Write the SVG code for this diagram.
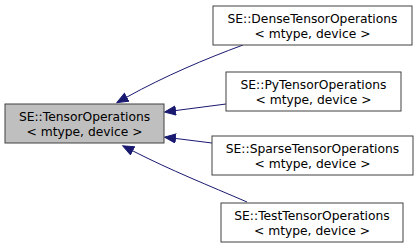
<svg xmlns="http://www.w3.org/2000/svg" width="420" height="248" viewBox="0 0 420 248">
  <style>
    .node rect { stroke: #404040; stroke-width: 1; }
    .base rect { fill: #bfbfbf; }
    .derived rect { fill: #ffffff; }
    .node text { font-family: "DejaVu Sans", sans-serif; font-size: 12.3px; fill: #000000; text-anchor: middle; }
    .edge { fill: none; stroke: #191970; stroke-width: 1; marker-end: url(#arrow); }
  </style>
  <defs>
    <marker id="arrow" markerUnits="userSpaceOnUse" markerWidth="13" markerHeight="11" refX="0" refY="5" orient="auto">
      <polygon points="0.5,0.5 11.5,5 0.5,9.5" fill="#191970" stroke="#191970" stroke-width="1"/>
    </marker>
  </defs>
  <rect width="420" height="248" fill="#ffffff"/>

  <!-- inheritance connectors, each pointing to the base class -->
  <g id="connectors">
    <path class="edge" d="M243,45 C205,59 165,76 127,97"/>
    <path class="edge" d="M226,104 L176,110.5"/>
    <path class="edge" d="M212,143 L176,138.5"/>
    <path class="edge" d="M247,202 C210,186 170,170 133,151"/>
  </g>

  <g id="TensorOperations" class="node base">
    <rect x="5" y="104" width="159" height="39"/>
    <text x="84.5" y="121.2">SE::TensorOperations</text>
    <text x="84.5" y="135.6">&lt; mtype, device &gt;</text>
  </g>

  <g id="DenseTensorOperations" class="node derived">
    <rect x="213" y="6" width="199" height="39"/>
    <text x="312.5" y="23.2">SE::DenseTensorOperations</text>
    <text x="312.5" y="37.6">&lt; mtype, device &gt;</text>
  </g>

  <g id="PyTensorOperations" class="node derived">
    <rect x="226" y="72" width="175" height="39"/>
    <text x="313.5" y="89.2">SE::PyTensorOperations</text>
    <text x="313.5" y="103.6">&lt; mtype, device &gt;</text>
  </g>

  <g id="SparseTensorOperations" class="node derived">
    <rect x="212" y="136" width="201" height="39"/>
    <text x="312.5" y="153.2">SE::SparseTensorOperations</text>
    <text x="312.5" y="167.6">&lt; mtype, device &gt;</text>
  </g>

  <g id="TestTensorOperations" class="node derived">
    <rect x="221" y="203" width="182" height="39"/>
    <text x="312" y="220.2">SE::TestTensorOperations</text>
    <text x="312" y="234.6">&lt; mtype, device &gt;</text>
  </g>
</svg>
